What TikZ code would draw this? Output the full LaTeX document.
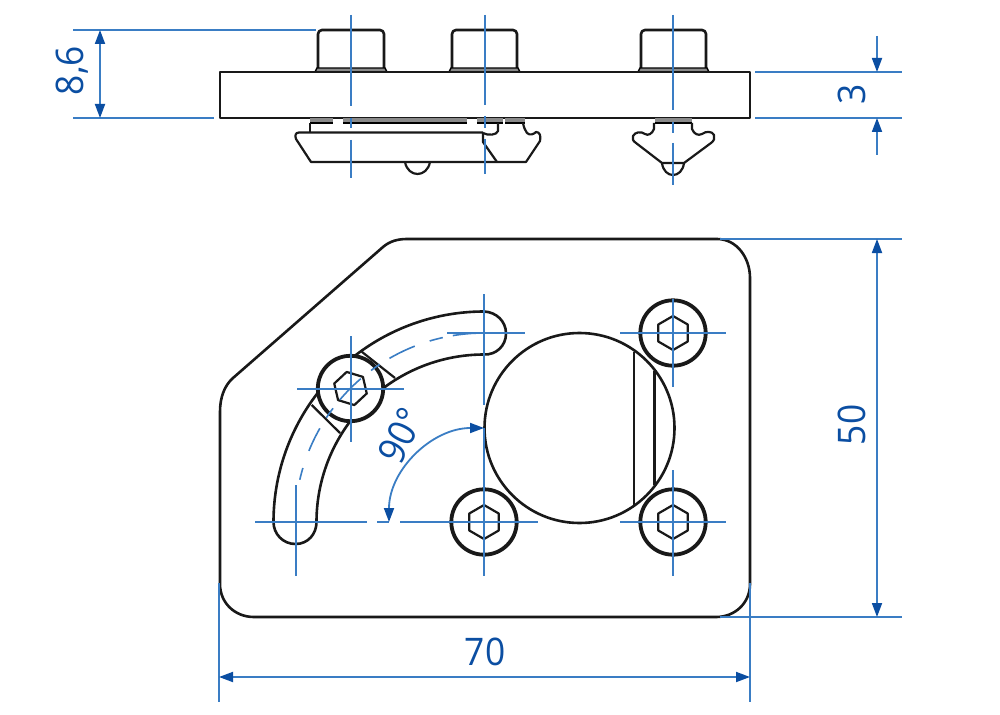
\documentclass[tikz,border=0pt]{standalone}
\usepackage{fontspec}
\setmainfont{Open Sans}
\newfontfamily\dimfont[FakeStretch=0.93]{Open Sans}
\usetikzlibrary{arrows.meta}
\definecolor{cl}{HTML}{3A7DC4}
\definecolor{dm}{HTML}{0B4EA2}
\definecolor{gr}{HTML}{8A8A8A}
\tikzset{
 outl/.style={draw=black!90,line width=2.6pt,line join=round},
 thin outl/.style={draw=black!90,line width=2.2pt,line join=round},
 centre/.style={draw=cl,line width=2pt},
 dimline/.style={draw=cl,line width=1.8pt},
 tip/.tip={Triangle[length=14pt,width=10pt,color=dm]},
 arr/.style={dimline,tip-tip},
 arrend/.style={dimline,-tip},
 dimtext/.style={text=dm,font=\dimfont\fontsize{38}{38}\selectfont,inner sep=0pt},
 strip/.style={fill=gr,draw=black,line width=1pt}
}
\newcommand{\boltat}[3]{%
 \draw[draw=black!90,line width=3.8pt,fill=white] (#1,#2) circle (32.7);
 \draw[thin outl] plot[samples at={0,60,...,300}] ({#1+17*sin(\x+#3)},{#2-17*cos(\x+#3)}) -- cycle;
}
\begin{document}
\begin{tikzpicture}[x=1pt,y=-1pt]
\useasboundingbox (0,0) rectangle (1000,714);
\fill[white] (0,0) rectangle (1000,714);
% ---- top view -------------------------------------------
\foreach \a/\b in {318/384,452/517,641/706}{
 \draw[outl,rounded corners=4pt] (\a,72) -- (\a,30) -- (\b,30) -- (\b,72);
 \fill[gr] (\a-2,68.5) rectangle (\b+2,72);
 \draw[draw=black,line width=1.4pt] (\a-3,72) -- (\a-1,68) -- (\b+1,68) -- (\b+3,72);
}
\draw[outl] (220,72) rectangle (750,118);
\foreach \a/\b in {310/333,343/370,370/467,477/503,505/525,655/692}{
 \fill[gr] (\a,118.5) rectangle (\b,123);
 \draw[draw=black,line width=1.4pt] (\a,123) -- (\b,123);
}
\draw[thin outl] (310,123) -- (310,132) ;
\draw[thin outl] (498,123) -- (498,131) .. controls (497,135) and (488,136) .. (483,133);
% main body
\draw[thin outl] (483,132.5) -- (299,132.5) .. controls (295,132.5) and (295,136) .. (296,139) -- (311,162) -- (526,162) -- (540,141) .. controls (541,136) and (540,132) .. (536,132) .. controls (534,134) and (530,136) .. (527,133) .. controls (525,130) and (524,128) .. (523,123);
\draw[thin outl] (483,133) -- (483,142) -- (497,162);
\draw[thin outl] (405,162) .. controls (408,178) and (427,178) .. (430,162);
% right nut
\draw[thin outl] (654,123) -- (654,129) .. controls (652,134) and (648,136) .. (645,134) .. controls (641,131) and (635,132) .. (633,136) .. controls (632,139) and (633,141) .. (636,143) -- (662,163) -- (684,163) -- (711,143) .. controls (714,141) and (715,138) .. (714,135) .. controls (712,131) and (706,131) .. (702,134) .. controls (698,136) and (694,134) .. (692,129) -- (692,123);
\draw[thin outl] (662,163) .. controls (664,179) and (682,179) .. (684,163);
% top view centre lines
\draw[centre] (350.5,15) -- (350.5,106.5) (350.5,118) -- (350.5,128) (350.5,140) -- (350.5,178);
\draw[centre] (484.5,15) -- (484.5,105) (484.5,116) -- (484.5,128) (484.5,139) -- (484.5,174);
\draw[centre] (673,15) -- (673,110) (673,122) -- (673,133) (673,143) -- (673,185);
% ---- plate --------------------------------------------
\draw[outl] (407,239) -- (717,239) .. controls (737,239) and (750,258) .. (750,278) -- (750,584) .. controls (750,603) and (735,617) .. (716,617) -- (254,617) .. controls (235,617) and (220,603) .. (220,584) -- (220,412) .. controls (220,398) and (224,386) .. (233,378) -- (383,247) .. controls (390,241) and (398,239) .. (407,239);
% big circle
\draw[outl] (579.5,428) circle (95);
\draw[thin outl] (634,351.5) -- (634,504.5);
\draw[thin outl] (654.5,371) -- (654.5,485);
% slot
\draw[outl] plot[domain=180:90,samples=90] ({484+210.5*cos(\x)},{522-210.5*sin(\x)})
 .. controls (496,312) and (506,321) .. (506,333.5) .. controls (506,346) and (496,355) .. (484,354.5)
 -- plot[domain=90:180,samples=90] ({484+167.5*cos(\x)},{522-167.5*sin(\x)})
 .. controls (316.5,534) and (308,544) .. (295.5,544) .. controls (283,544) and (273.5,534) .. (273.5,522);
\draw[thin outl] (361.7,351.7) -- (395,378);
\draw[thin outl] (311.7,405) -- (340,433);
% bolts
\boltat{350.5}{388.5}{-13}
\boltat{673}{333}{0}
\boltat{673}{522}{0}
\boltat{484}{522}{0}
% centre lines of plate
\draw[centre] (447,333) -- (525,333) (484,294) -- (484,405) (484,428) -- (484,576);
\draw[centre] (255,522) -- (367,522) (377,522) -- (389,522) (400,522) -- (538,522);
\draw[centre] (296,485) -- (296,576);
\draw[centre] (297,389) -- (404,389) (351,336) -- (351,442);
\draw[centre] (620,333) -- (726,333) (673,299) -- (673,387);
\draw[centre] (620,522) -- (726,522) (673,470) -- (673,576);
\foreach \p/\q in {90/99.5,102.6/106.7,111.5/120,123.5/126.7,130.7/139.7,143/146.5,150.3/157.9,163.4/167.1}
 \draw[centre,line width=1.6pt] plot[domain=\p:\q,samples=8] ({484+189*cos(\x)},{522-189*sin(\x)});
% ---- dimensions -------------------------------------
\draw[dimline] (73,30) -- (316,30) (73,118) -- (214,118);
\draw[arr] (100,30) -- (100,118);
\node[dimtext,rotate=90,anchor=base] (t86) at (83,70.5) {8,6};
\draw[dimline] (755,72) -- (902,72) (755,118) -- (902,118);
\draw[arrend] (877,36) -- (877,72);
\draw[arrend] (877,155) -- (877,118);
\node[dimtext,rotate=90,anchor=base] (t3) at (865,94) {3};
\draw[dimline] (720,239) -- (902,239) (720,617) -- (902,617);
\draw[arr] (877,239) -- (877,617);
\node[dimtext,rotate=90,anchor=base] (t50) at (865,425) {50};
\draw[dimline] (219,583) -- (219,702) (750,583) -- (750,702);
\draw[arr] (219,677) -- (750,677);
\node[dimtext,anchor=base] (t70) at (485,665) {70};
\draw[arr] (389,522) .. controls (389,470) and (432,428) .. (484,428);
\node[dimtext,rotate=63] (t90) at (401,436) {90°};
\end{tikzpicture}
\end{document}
